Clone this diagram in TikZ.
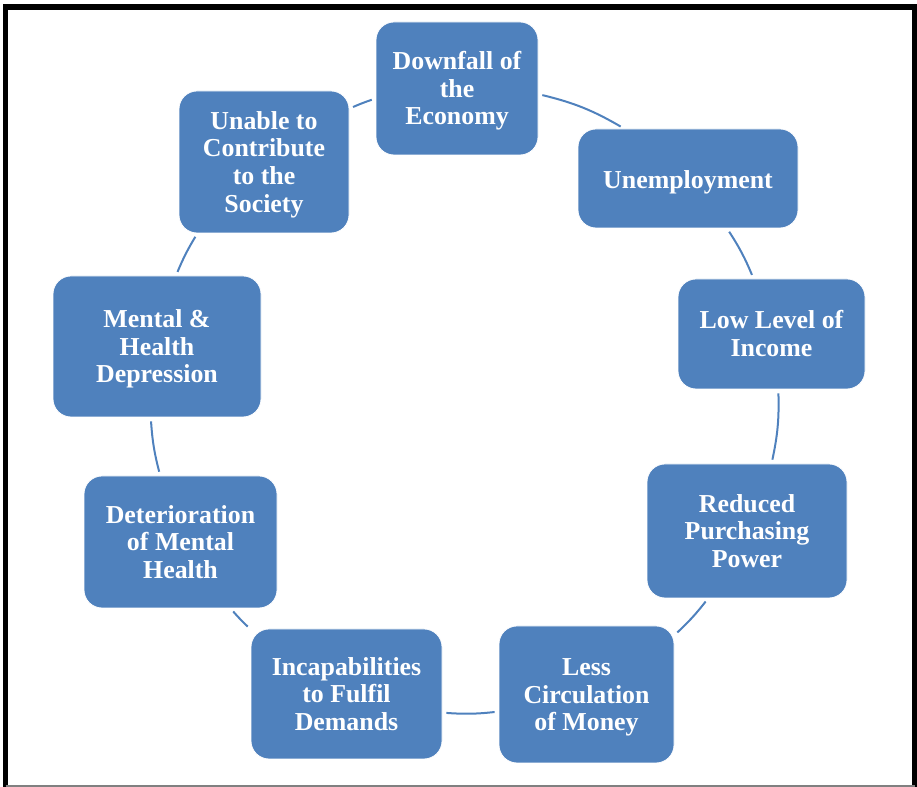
\documentclass[tikz,border=0pt]{standalone}
\usepackage{fontspec}
\setmainfont{Liberation Serif}
\definecolor{boxblue}{HTML}{4F81BD}
\definecolor{linkblue}{HTML}{4F81BD}
% centred stack of lines with fixed line boxes
\newcommand\stagetext[1]{\begin{tabular}{@{}c@{}}#1\end{tabular}}
\begin{document}
\begin{tikzpicture}[x=0.75pt,y=0.75pt,
  box/.style={rectangle, rounded corners=13.5pt, fill=boxblue, draw=white,
    line width=0.6pt, inner sep=0pt},
  lbl/.style={text=white, inner sep=0pt, yshift=-2.4pt,
    font=\fontsize{19.4}{20.7}\selectfont\bfseries},
  link/.style={draw=linkblue, line width=1.5pt, shorten >=3pt, shorten <=3pt}]
\useasboundingbox (0,0) rectangle (917,787);

% outer frame
\draw[line width=4.1pt, line join=miter] (5.5,0) -- (5.5,780) -- (914.5,780) -- (914.5,0);
\draw[gray, line width=0.8pt] (5.5,1) -- (914.5,1);

% the nine stages of the cycle
\node[box, minimum width=121.5pt, minimum height=99.75pt] (dn) at (457,698.5) {};
\node[box, minimum width=165pt, minimum height=74.25pt] (un) at (688,608.5) {};
\node[box, minimum width=140.25pt, minimum height=82.5pt] (ll) at (771.5,453) {};
\node[box, minimum width=150pt, minimum height=100.5pt] (rp) at (747,256) {};
\node[box, minimum width=131.25pt, minimum height=102.75pt] (lc) at (586.5,92.5) {};
\node[box, minimum width=143.25pt, minimum height=97.5pt] (ic) at (346.5,93) {};
\node[box, minimum width=144.75pt, minimum height=99pt] (dm) at (180.5,245) {};
\node[box, minimum width=156pt, minimum height=105.75pt] (mh) at (157,440.5) {};
\node[box, minimum width=127.5pt, minimum height=106.5pt] (uc) at (264,625) {};

% their labels
\node[lbl] (dnt) at (dn) {\stagetext{Downfall of\\the\\Economy}};
\node[lbl, yshift=-0.9pt] (unt) at (un) {\stagetext{Unemployment}};
\node[lbl] (llt) at (ll) {\stagetext{Low Level of\\Income}};
\node[lbl] (rpt) at (rp) {\stagetext{Reduced\\Purchasing\\Power}};
\node[lbl] (lct) at (lc) {\stagetext{Less\\Circulation\\of Money}};
\node[lbl] (ict) at (ic) {\stagetext{Incapabilities\\to Fulfil\\Demands}};
\node[lbl] (dmt) at (dm) {\stagetext{Deterioration\\of Mental\\Health}};
\node[lbl] (mht) at (mh) {\stagetext{Mental \&\\Health\\Depression}};
\node[lbl] (uct) at (uc) {\stagetext{Unable to\\Contribute\\to the\\Society}};

% arcs joining the stages clockwise
\draw[link] (dn.-4.4) to[bend left=8.4] (un.142.9);
\draw[link] (un.-52) to[bend left=5.3] (ll.108);
\draw[link] (ll.-83.5) to[bend left=6.9] (rp.70);
\draw[link] (rp.-120.4) to[bend left=4.5] (lc.34.9);
\draw[link] (lc.191.3) to[bend left=5.2] (ic.-11.4);
\draw[link] (ic.146.5) to[bend left=2.9] (dm.-53.8);
\draw[link] (dm.107.8) to[bend left=5.5] (mh.-95.3);
\draw[link] (mh.75.3) to[bend left=4.4] (uc.227.1);
\draw[link] (uc.32.5) to[bend left=2.6] (dn.187);
\end{tikzpicture}
\end{document}
